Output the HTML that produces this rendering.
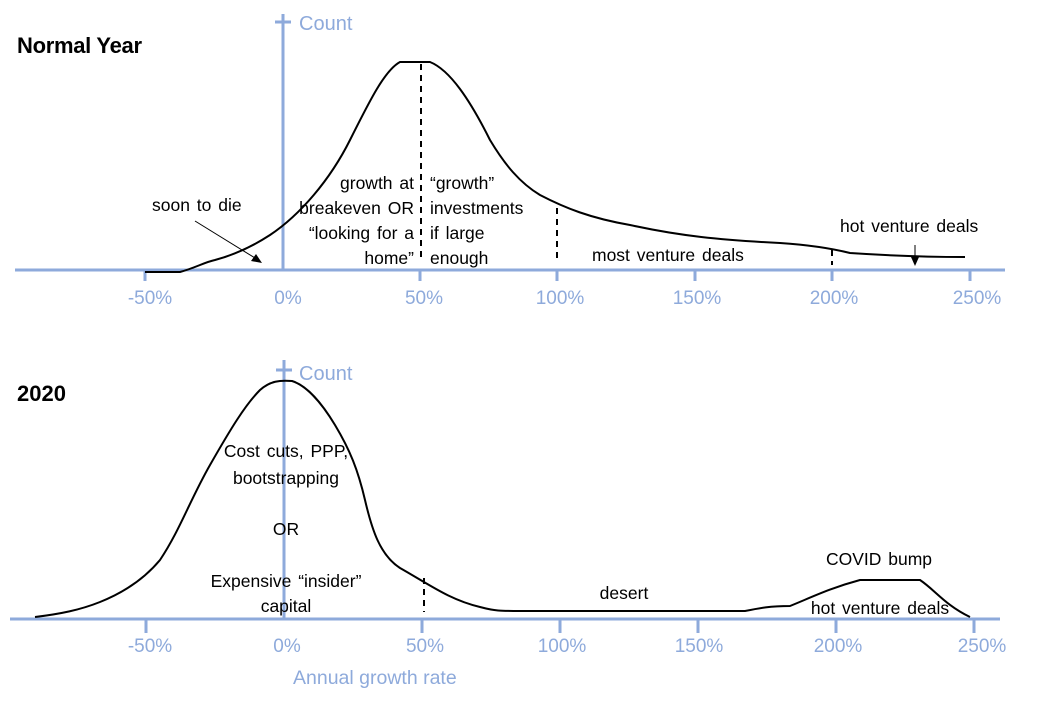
<!DOCTYPE html>
<html><head><style>
body{margin:0;background:#fff;}
svg{display:block;font-family:"Liberation Sans",sans-serif;}
.ax{stroke:#8eaadb;stroke-width:3;fill:none}
.tl{fill:#8eaadb;font-size:19px;text-anchor:middle}
.c{stroke:#000;stroke-width:2;fill:none}
.d{stroke:#000;stroke-width:2;stroke-dasharray:6,5}
.t{font-size:17.5px;fill:#000;word-spacing:2px}
</style></head><body>
<svg width="1061" height="705" viewBox="0 0 1061 705">
<!-- top chart -->
<text x="17" y="53" font-size="22" font-weight="bold" letter-spacing="-0.3">Normal Year</text>
<line class="ax" x1="15" y1="270" x2="1005" y2="270"/>
<line class="ax" x1="283" y1="14" x2="283" y2="270"/>
<line class="ax" x1="275" y1="22" x2="291" y2="22"/>
<text x="299" y="30" fill="#8eaadb" font-size="20">Count</text>
<g class="ax">
<line x1="145" y1="270" x2="145" y2="281"/><line x1="420" y1="270" x2="420" y2="281"/>
<line x1="557" y1="270" x2="557" y2="281"/><line x1="695" y1="270" x2="695" y2="281"/>
<line x1="832" y1="270" x2="832" y2="281"/><line x1="970" y1="270" x2="970" y2="281"/>
</g>
<g class="tl">
<text x="150" y="304">-50%</text><text x="288" y="304">0%</text><text x="424" y="304">50%</text>
<text x="560" y="304">100%</text><text x="697" y="304">150%</text><text x="834" y="304">200%</text><text x="977" y="304">250%</text>
</g>
<path class="c" d="M145,272 L180,272 C195,268 205,262 215,260 C230,256 250,248 270,235 C300,215 330,180 350,140 C370,100 385,70 400,62 L430,62 C450,70 470,100 490,140 C505,165 520,183 540,195 C565,208 590,218 630,225 C680,236 720,240 780,243 C810,245 830,248 850,253 C880,255 920,257 965,257"/>
<line class="d" x1="421" y1="64" x2="421" y2="262"/>
<line class="d" x1="557" y1="208" x2="557" y2="262"/>
<line class="d" x1="832" y1="250" x2="832" y2="265"/>
<line x1="195" y1="221" x2="255" y2="258" stroke="#000" stroke-width="1"/>
<polygon points="262,263 251,261 256,254" fill="#000"/>
<line x1="915" y1="245" x2="915" y2="260" stroke="#000" stroke-width="1"/>
<polygon points="915,266 911,257 919,257" fill="#000"/>
<text class="t" x="152" y="211">soon to die</text>
<g class="t" text-anchor="end"><text x="414" y="189">growth at</text><text x="414" y="214">breakeven  OR</text><text x="414" y="239">“looking for a</text><text x="414" y="264">home”</text></g>
<g class="t"><text x="430" y="189">“growth”</text><text x="430" y="214">investments</text><text x="430" y="239">if large</text><text x="430" y="264">enough</text></g>
<text class="t" x="592" y="261">most venture  deals</text>
<text class="t" x="840" y="232">hot venture  deals</text>

<!-- bottom chart -->
<text x="17" y="401" font-size="22" font-weight="bold">2020</text>
<line class="ax" x1="10" y1="619" x2="1000" y2="619"/>
<line class="ax" x1="284" y1="360" x2="284" y2="619"/>
<line class="ax" x1="276" y1="370" x2="292" y2="370"/>
<text x="299" y="380" fill="#8eaadb" font-size="20">Count</text>
<g class="ax">
<line x1="146" y1="619" x2="146" y2="633"/><line x1="422" y1="619" x2="422" y2="633"/>
<line x1="560" y1="619" x2="560" y2="633"/><line x1="698" y1="619" x2="698" y2="633"/>
<line x1="836" y1="619" x2="836" y2="633"/><line x1="974" y1="619" x2="974" y2="633"/>
</g>
<g class="tl">
<text x="150" y="652">-50%</text><text x="287" y="652">0%</text><text x="425" y="652">50%</text>
<text x="562" y="652">100%</text><text x="699" y="652">150%</text><text x="838" y="652">200%</text><text x="982" y="652">250%</text>
</g>
<text x="293" y="684" fill="#8eaadb" font-size="19.5">Annual growth rate</text>
<path class="c" d="M35,617 C60,614 80,610 100,602 C125,592 145,578 160,560 C180,530 190,500 210,465 C230,430 245,405 260,390 C270,381 280,380 292,381 C305,385 320,400 335,425 C350,450 358,470 365,500 C372,530 380,555 400,568 C430,585 450,600 480,607 C495,611 500,611 520,611 L745,611 C760,608 770,606 790,606 C810,598 830,588 860,580 L920,580 C935,590 945,605 970,617"/>
<line class="d" x1="424" y1="578" x2="424" y2="612"/>
<g class="t" text-anchor="middle">
<text x="286" y="457">Cost cuts, PPP,</text><text x="286" y="484">bootstrapping</text>
<text x="286" y="535">OR</text>
<text x="286" y="587">Expensive  “insider”</text><text x="286" y="612">capital</text>
<text x="624" y="599">desert</text>
<text x="879" y="565">COVID bump</text>
<text x="880" y="614">hot venture  deals</text>
</g>
</svg>
</body></html>
